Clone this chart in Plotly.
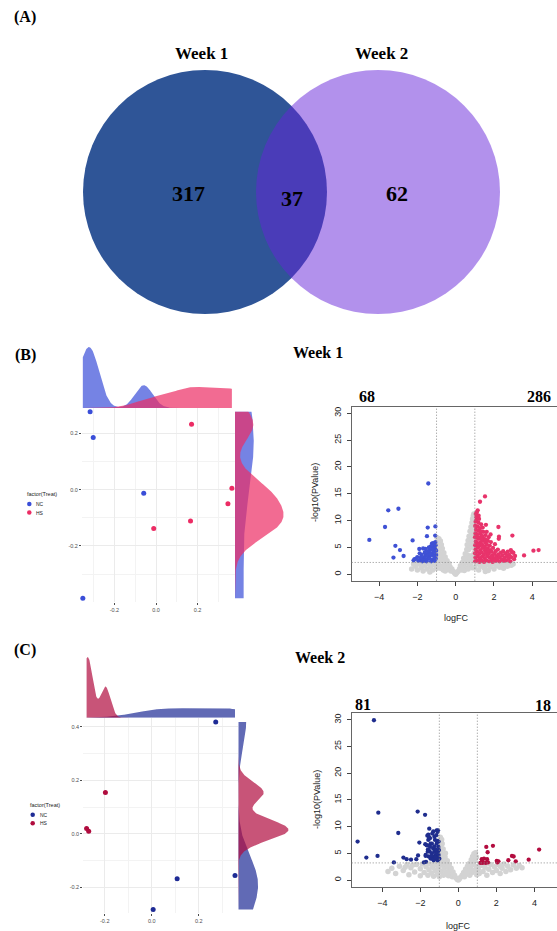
import numpy as np
import plotly.graph_objects as go

W, H = 557, 931

# ---------------- data ----------------
venn_sets = ["Week 1", "Week 2"]
venn_counts = [317, 37, 62]          # only week1, shared, only week2

treat_groups = ["NC", "HS"]

w1_nc_pc1 = [-0.317, -0.302, -0.059, -0.352]
w1_nc_pc2 = [0.277, 0.185, -0.013, -0.386]
w1_hs_pc1 = [0.171, 0.365, 0.346, 0.166, -0.011]
w1_hs_pc2 = [0.232, 0.005, -0.050, -0.111, -0.138]

w2_nc_pc1 = [0.272, 0.108, 0.006, 0.354]
w2_nc_pc2 = [0.418, -0.168, -0.283, -0.156]
w2_hs_pc1 = [-0.197, -0.277, -0.268]
w2_hs_pc2 = [0.154, 0.020, 0.010]

w1_deg_counts = [68, 286]
w2_deg_counts = [81, 18]
fc_cut = 1.0
w1_p_cut = 2.2
w2_p_cut = 3.2

# (logFC, -log10 P)
w1_down = [(-4.51, 6.4), (-3.69, 8.8), (-3.52, 11.9), (-2.99, 12.2), (-3.15, 5.3), (-2.91, 4.5),
           (-3.25, 3.1), (-2.72, 3.4), (-2.25, 6.3), (-1.43, 16.9), (-1.46, 8.7), (-1.06, 8.9),
           (-1.50, 7.1), (-1.06, 6.0), (-1.24, 5.7), (-1.90, 4.7), (-2.07, 2.9), (-1.58, 4.7),
           (-1.34, 4.5), (-1.17, 3.6), (-1.08, 4.8), (-1.25, 3.9), (-1.43, 3.2), (-1.69, 3.0),
           (-1.86, 2.7), (-2.00, 3.2), (-1.51, 2.7), (-1.20, 2.7), (-1.08, 3.0), (-1.34, 3.4),
           (-1.13, 4.2), (-1.43, 3.9), (-1.78, 3.6), (-1.60, 3.3), (-1.15, 5.1), (-1.05, 5.4),
           (-1.30, 5.2), (-1.45, 4.3), (-1.55, 3.7), (-1.65, 2.5), (-1.75, 2.4), (-1.95, 2.5),
           (-2.15, 2.8), (-1.28, 2.4), (-1.10, 2.5), (-1.02, 3.6), (-1.22, 4.6), (-1.38, 2.9),
           (-1.48, 3.5), (-1.62, 4.0), (-1.88, 3.9), (-1.70, 4.8), (-1.02, 4.4), (-1.12, 3.3),
           (-1.32, 3.8), (-1.52, 2.4), (-2.20, 2.6), (-1.82, 3.1), (-1.04, 2.9), (-1.18, 5.8),
           (-1.40, 5.0), (-1.07, 7.2)]
w1_up = [(1.02, 2.4), (1.03, 3.1), (1.01, 3.9), (1.04, 4.6), (1.02, 5.4), (1.05, 6.1), (1.01, 6.9),
         (1.03, 7.6), (1.06, 8.3), (1.02, 9.0), (1.04, 9.8), (1.08, 10.6), (1.05, 11.2), (1.15, 11.9),
         (1.27, 13.5), (1.53, 14.5), (1.12, 2.6), (1.14, 3.4), (1.11, 4.2), (1.16, 5.0), (1.13, 5.8),
         (1.17, 6.6), (1.12, 7.4), (1.18, 8.1), (1.14, 8.9), (1.19, 9.6), (1.22, 10.3), (1.24, 2.3),
         (1.26, 3.0), (1.23, 3.8), (1.28, 4.5), (1.25, 5.3), (1.29, 6.0), (1.24, 6.8), (1.30, 7.5),
         (1.27, 8.6), (1.33, 9.3), (1.36, 2.5), (1.38, 3.3), (1.35, 4.1), (1.40, 4.9), (1.37, 5.6),
         (1.42, 6.3), (1.39, 7.1), (1.44, 7.9), (1.41, 8.7), (1.48, 2.3), (1.51, 3.0), (1.47, 3.7),
         (1.53, 4.4), (1.50, 5.2), (1.55, 5.9), (1.49, 6.6), (1.56, 7.3), (1.58, 9.2), (1.62, 7.9),
         (1.61, 2.6), (1.64, 3.4), (1.60, 4.1), (1.66, 4.8), (1.63, 5.5), (1.68, 6.2), (1.72, 6.9),
         (1.74, 2.4), (1.77, 3.1), (1.73, 3.8), (1.80, 4.5), (1.78, 5.3), (1.84, 6.0), (1.82, 7.4),
         (1.88, 2.7), (1.91, 3.5), (1.87, 4.2), (1.95, 4.9), (1.93, 2.3), (1.99, 3.0), (2.02, 3.8),
         (2.05, 5.6), (2.10, 2.5), (2.13, 3.3), (2.08, 4.3), (2.18, 2.9), (2.22, 3.7), (2.20, 4.6),
         (2.28, 2.4), (2.31, 3.2), (2.25, 6.6), (2.23, 8.8), (2.26, 7.0), (2.36, 4.0), (2.40, 2.7),
         (2.44, 3.5), (2.48, 4.3), (2.52, 2.5), (2.55, 3.1), (2.60, 3.9), (2.64, 2.6), (2.68, 3.4),
         (2.72, 4.2), (2.76, 2.9), (2.80, 3.6), (2.85, 2.4), (2.90, 3.2), (2.96, 7.2), (2.95, 4.1),
         (3.01, 4.0), (3.05, 2.8), (2.88, 4.5), (3.10, 3.4), (3.57, 3.5), (4.06, 4.4), (4.33, 4.5),
         (1.07, 10.0), (1.09, 7.0), (1.20, 5.5), (1.33, 6.6), (1.46, 5.0), (1.58, 4.7), (1.70, 4.4),
         (1.86, 3.3), (2.00, 2.6), (1.10, 11.5), (1.20, 10.9), (1.31, 8.0), (1.57, 6.4)]
w1_ns = [(-2.3, 1.0), (-2.1, 1.5), (-2.0, 0.8), (-1.9, 1.9), (-1.8, 1.2), (-1.7, 0.6), (-1.6, 1.7),
         (-1.5, 1.0), (-1.4, 2.0), (-1.3, 1.4), (-1.2, 0.8), (-1.1, 1.8), (-1.0, 1.1), (1.0, 1.2),
         (1.1, 1.9), (1.2, 0.8), (1.3, 1.5), (1.4, 2.0), (1.5, 1.1), (1.6, 1.7), (1.7, 0.7), (1.8, 1.4),
         (1.9, 2.0), (2.0, 1.0), (2.1, 1.6), (2.2, 2.0), (2.3, 1.3), (2.4, 1.8), (2.5, 1.1), (2.6, 1.9),
         (2.7, 1.5), (2.8, 2.0), (2.9, 1.7), (3.0, 1.9), (-1.7, 2.1), (-2.2, 1.9), (1.55, 0.5),
         (-1.35, 0.4), (0.05, 0.3), (0.12, 0.5), (0.2, 1.0), (0.25, 1.6), (0.3, 0.8), (0.35, 2.2),
         (0.38, 1.4), (0.42, 3.0), (0.45, 2.0), (0.5, 3.8), (0.52, 1.2), (0.55, 2.8), (0.58, 4.6),
         (0.6, 5.5), (0.62, 3.6), (0.65, 6.3), (0.68, 4.6), (0.7, 7.1), (0.72, 5.5), (0.75, 8.0),
         (0.78, 6.4), (0.8, 8.8), (0.82, 7.2), (0.85, 9.6), (0.88, 10.3), (0.9, 8.0), (0.92, 10.9),
         (0.95, 11.2), (0.95, 9.0), (0.97, 6.0), (0.97, 4.0), (0.97, 2.5), (0.9, 5.0), (0.85, 3.5),
         (0.8, 2.0), (0.75, 3.0), (0.7, 1.5), (0.65, 1.0), (0.6, 2.2), (0.88, 1.2), (0.93, 7.0),
         (-0.05, 0.2), (-0.12, 0.5), (-0.2, 1.0), (-0.25, 0.6), (-0.3, 1.4), (-0.35, 2.0), (-0.4, 0.9),
         (-0.45, 2.5), (-0.5, 1.5), (-0.55, 3.2), (-0.6, 2.2), (-0.62, 4.0), (-0.68, 3.0), (-0.7, 4.8),
         (-0.72, 1.5), (-0.75, 5.5), (-0.78, 3.8), (-0.8, 6.2), (-0.85, 2.5), (-0.85, 4.6), (-0.88, 6.6),
         (-0.9, 5.5), (-0.92, 3.2), (-0.95, 1.2), (-0.97, 6.8), (-0.97, 4.2), (-0.65, 0.8), (-0.8, 1.1),
         (-0.55, 0.6), (0.0, 0.0), (0.9, 6.5), (0.93, 3.2), (0.72, 2.3), (0.82, 5.8), (-0.9, 2.0),
         (-0.75, 3.4), (-0.62, 1.6), (-0.45, 1.0), (0.45, 0.7), (-1.2, 2.1), (-2.0, 2.0), (1.2, 2.0)]

w2_down = [(-4.44, 29.9), (-5.30, 7.2), (-4.84, 4.2), (-4.21, 12.6), (-4.25, 4.5), (-3.16, 8.8),
           (-3.39, 3.3), (-2.89, 4.2), (-2.72, 3.9), (-2.49, 3.8), (-2.21, 3.9), (-2.12, 4.6),
           (-2.05, 7.0), (-2.14, 12.8), (-1.75, 12.2), (-1.81, 3.3), (-1.70, 3.4), (-1.53, 9.6),
           (-1.58, 8.5), (-1.49, 7.8), (-1.46, 6.8), (-1.63, 6.5), (-1.32, 9.1), (-1.23, 7.5),
           (-1.14, 9.3), (-1.09, 9.0), (-1.32, 5.9), (-1.26, 5.3), (-1.19, 4.7), (-1.14, 4.4),
           (-1.09, 3.7), (-1.40, 5.0), (-1.51, 5.4), (-1.26, 8.1), (-1.14, 6.8), (-1.05, 6.2),
           (-1.02, 5.6), (-1.04, 4.7), (-1.21, 4.0), (-1.35, 4.4), (-1.49, 6.2), (-1.58, 7.5),
           (-1.37, 8.7), (-1.16, 8.4), (-1.11, 7.3), (-1.07, 5.3), (-1.39, 6.8), (-1.26, 6.3),
           (-1.18, 5.7), (-1.04, 7.2), (-1.60, 5.7), (-1.46, 4.0), (-1.30, 3.7), (-1.12, 5.0),
           (-1.00, 4.0), (-1.56, 4.4), (-1.72, 4.7), (-1.07, 9.3), (-1.63, 8.3), (-1.53, 8.0),
           (-1.74, 6.7), (-1.67, 6.5), (-1.61, 5.3), (-1.72, 4.5), (-1.32, 3.9), (-1.40, 4.5),
           (-1.21, 4.2)]
w2_up = [(1.47, 6.2), (1.82, 6.4), (1.54, 5.2), (1.23, 3.9), (1.35, 4.0), (1.16, 3.2), (1.28, 3.2),
         (1.51, 3.9), (1.56, 3.3), (2.02, 3.6), (2.11, 3.5), (2.05, 3.3), (2.63, 3.7), (2.82, 4.5),
         (2.91, 4.4), (3.02, 3.5), (3.70, 3.8), (4.25, 5.7), (1.25, 3.5), (1.44, 3.2)]
w2_ns = [(-3.7, 1.6), (-3.5, 2.2), (-3.3, 1.2), (-3.1, 2.6), (-2.9, 1.8), (-2.7, 2.9), (-2.6, 1.0),
         (-2.5, 2.3), (-2.3, 1.5), (-2.2, 2.9), (-2.0, 0.8), (-2.0, 2.1), (-1.9, 3.0), (-1.8, 1.4),
         (-1.7, 2.5), (-1.6, 0.9), (-1.55, 1.9), (-1.5, 3.0), (-1.4, 1.3), (-1.35, 2.4), (-1.3, 0.7),
         (-1.25, 3.1), (-1.2, 1.8), (-1.15, 2.8), (-1.1, 1.1), (-1.05, 2.2), (-1.0, 3.4), (-1.0, 0.6),
         (-0.95, 4.2), (-0.95, 5.2), (-0.92, 6.2), (-0.9, 7.2), (-0.95, 8.0), (-0.9, 1.6), (-0.88, 2.8),
         (-0.85, 3.8), (-0.82, 4.8), (-0.8, 5.8), (-0.78, 0.9), (-0.75, 2.2), (-0.72, 3.2), (-0.7, 4.3),
         (-0.68, 5.0), (-0.65, 1.4), (-0.6, 2.6), (-0.58, 3.6), (-0.52, 0.8), (-0.5, 1.9), (-0.48, 2.9),
         (-0.42, 1.2), (-0.38, 2.2), (-0.32, 0.6), (-0.28, 1.5), (-0.2, 0.9), (-0.12, 0.4), (-0.05, 0.1),
         (0.05, 0.2), (0.12, 0.5), (0.2, 0.9), (0.28, 1.4), (0.32, 0.6), (0.38, 2.0), (0.42, 1.1),
         (0.48, 2.6), (0.52, 1.6), (0.58, 3.1), (0.6, 0.9), (0.65, 2.2), (0.68, 3.8), (0.72, 1.4),
         (0.75, 4.4), (0.78, 2.9), (0.82, 4.9), (0.85, 1.8), (0.88, 3.6), (0.9, 5.1), (0.95, 4.3),
         (0.95, 2.5), (0.97, 1.0), (1.05, 2.0), (1.1, 1.2), (1.2, 2.7), (1.3, 1.6), (1.4, 2.4),
         (1.5, 0.9), (1.6, 2.0), (1.7, 2.9), (1.8, 1.4), (1.9, 2.5), (2.0, 1.8), (2.1, 2.9), (2.2, 1.2),
         (2.3, 2.2), (2.4, 3.0), (2.5, 1.6), (2.6, 2.6), (2.75, 1.9), (2.9, 2.8), (3.05, 2.2),
         (3.2, 2.7), (3.35, 2.3), (1.15, 3.0), (1.45, 3.1), (0.0, 0.0), (-0.85, 6.8), (-0.88, 7.6),
         (-0.65, 3.0), (-0.55, 1.2), (0.7, 3.3), (0.62, 1.7), (-2.4, 2.8), (-2.8, 2.4), (2.2, 2.6)]

# ---------------- helpers ----------------
SERIF = "Liberation Serif"
SANS = "Liberation Sans"


def px(x):
    return x / W


def py(y):
    return 1 - y / H


def rgba(hx, a):
    h = hx.lstrip('#')
    return "rgba(%d,%d,%d,%s)" % (int(h[0:2], 16), int(h[2:4], 16), int(h[4:6], 16), a)


def bw_nrd0(v):
    v = np.asarray(v, float)
    sd = v.std(ddof=1)
    q75, q25 = np.percentile(v, [75, 25])
    lo = min(sd, (q75 - q25) / 1.34)
    if lo <= 0:
        lo = sd
    return 0.9 * lo * len(v) ** -0.2


def kde(v, grid):
    v = np.asarray(v, float)
    bw = bw_nrd0(v)
    z = (grid[:, None] - v[None, :]) / bw
    return np.exp(-0.5 * z ** 2).sum(1) / (len(v) * bw * np.sqrt(2 * np.pi))


fig = go.Figure()
lay = {}
shapes = []
ann = []


def axkey(c, n):
    return c + "axis" + ("" if n == 1 else str(n))


def ref(c, n):
    return c + ("" if n == 1 else str(n))


def text(x, y, s, size, family=SERIF, bold=True, color="black", angle=0, xanchor="center"):
    ann.append(dict(x=px(x), y=py(y), xref="paper", yref="paper", showarrow=False,
                    text=("<b>%s</b>" % s) if bold else s, textangle=angle, xanchor=xanchor,
                    yanchor="middle", font=dict(family=family, size=size, color=color)))


def pca_block(n, nc1, nc2, hs1, hs2, c_nc, c_hs, box, top_y, right_x, xr, yr, xt, yt):
    left, right, top, bottom = box
    mx, my = ref("x", n), ref("y", n)
    tx, ty = ref("x", n + 1), ref("y", n + 1)
    rx, ry = ref("x", n + 2), ref("y", n + 2)
    for a1, a2, c, nm in [(nc1, nc2, c_nc, treat_groups[0]), (hs1, hs2, c_hs, treat_groups[1])]:
        fig.add_trace(go.Scatter(x=a1, y=a2, mode="markers", name=nm, showlegend=False,
                                 marker=dict(color=c, size=5), cliponaxis=False,
                                 xaxis=mx, yaxis=my))
    gx = np.linspace(min(nc1 + hs1), max(nc1 + hs1), 512)
    gy = np.linspace(min(nc2 + hs2), max(nc2 + hs2), 512)
    dx = [kde(nc1, gx), kde(hs1, gx)]
    dy = [kde(nc2, gy), kde(hs2, gy)]
    for d, c in zip(dx, [c_nc, c_hs]):
        fig.add_trace(go.Scatter(x=gx, y=d, mode="lines", line=dict(width=0, color=c),
                                 fill="tozeroy", fillcolor=rgba(c, 0.7), showlegend=False,
                                 hoverinfo="skip", xaxis=tx, yaxis=ty))
    for d, c in zip(dy, [c_nc, c_hs]):
        fig.add_trace(go.Scatter(x=d, y=gy, mode="lines", line=dict(width=0, color=c),
                                 fill="tozerox", fillcolor=rgba(c, 0.7), showlegend=False,
                                 hoverinfo="skip", xaxis=rx, yaxis=ry))
    common = dict(showgrid=True, gridcolor="#EBEBEB", gridwidth=0.9, zeroline=False,
                  showline=False, ticks="outside", ticklen=2, tickcolor="#4D4D4D",
                  tickfont=dict(family=SANS, size=5.5, color="#4D4D4D"))
    lay[axkey("x", n)] = dict(domain=[px(left), px(right)], range=xr, anchor=my,
                              tickvals=xt, ticktext=["%.1f" % v for v in xt],
                              minor=dict(dtick=0.1, tick0=0, showgrid=True, gridcolor="#F3F3F3",
                                         ticks=""), **common)
    lay[axkey("y", n)] = dict(domain=[py(bottom), py(top)], range=yr, anchor=mx,
                              tickvals=yt, ticktext=["%.1f" % v for v in yt],
                              minor=dict(dtick=0.1, tick0=0, showgrid=True, gridcolor="#F3F3F3",
                                         ticks=""), **common)
    lay[axkey("x", n + 1)] = dict(domain=[px(left), px(right)], range=xr, visible=False, anchor=ty)
    lay[axkey("y", n + 1)] = dict(domain=[py(top), py(top_y)],
                                  range=[0, max(d.max() for d in dx) * 1.05], visible=False, anchor=tx)
    lay[axkey("x", n + 2)] = dict(domain=[px(right), px(right_x)],
                                  range=[0, max(d.max() for d in dy) * 1.05], visible=False, anchor=ry)
    lay[axkey("y", n + 2)] = dict(domain=[py(bottom), py(top)], range=yr, visible=False, anchor=rx)


def volcano_block(n, ns, down, up, c_dn, c_up, pcut, box, xr, yr):
    left, top, bottom = box
    xa, ya = ref("x", n), ref("y", n)
    for pts, c, sz in [(ns, "#D3D3D3", 5.5), (down, c_dn, 4.3), (up, c_up, 4.3)]:
        fc, pv = zip(*pts)
        fig.add_trace(go.Scatter(x=list(fc), y=list(pv), mode="markers", showlegend=False,
                                 marker=dict(color=c, size=sz, line=dict(width=0)),
                                 xaxis=xa, yaxis=ya))
    ax = dict(showgrid=False, zeroline=False, showline=True, mirror=True, linecolor="#666666",
              linewidth=1, ticks="outside", ticklen=4, tickcolor="#444444",
              tickfont=dict(family=SANS, size=9, color="#222222"))
    lay[axkey("x", n)] = dict(domain=[px(left), 1], range=xr, anchor=ya,
                              tickvals=[-4, -2, 0, 2, 4], ticklabelstandoff=3, **ax)
    lay[axkey("y", n)] = dict(domain=[py(bottom), py(top)], range=yr, anchor=xa,
                              tickvals=[0, 5, 10, 15, 20, 25, 30], tickangle=-90,
                              ticklabelstandoff=2, **ax)
    dot = dict(color="#8C8C8C", width=1, dash="1px,2px")
    for v in (-fc_cut, fc_cut):
        shapes.append(dict(type="line", xref=xa, yref=ya + " domain", x0=v, x1=v, y0=0, y1=1,
                           line=dot, layer="above"))
    shapes.append(dict(type="line", xref=xa + " domain", yref=ya, x0=0, x1=1, y0=pcut, y1=pcut,
                       line=dot, layer="above"))


# ---------------- panel A : Venn ----------------
shapes.append(dict(type="circle", xref="paper", yref="paper", x0=px(83), x1=px(327),
                   y0=py(314), y1=py(70), fillcolor="#2F5597", line=dict(width=0), layer="below"))
shapes.append(dict(type="circle", xref="paper", yref="paper", x0=px(256), x1=px(500),
                   y0=py(314), y1=py(70), fillcolor="rgba(101,35,217,0.5)", line=dict(width=0),
                   layer="below"))
text(25, 17, "(A)", 16)
text(201, 54, venn_sets[0], 17)
text(382, 54, venn_sets[1], 17)
for (x, y), v in zip([(188, 193), (292, 198), (397, 193)], venn_counts):
    text(x, y, str(v), 22)

# ---------------- panel B ----------------
pca_block(1, w1_nc_pc1, w1_nc_pc2, w1_hs_pc1, w1_hs_pc2, "#3A4ED8", "#EC2C64",
          (82, 235, 408, 602), 344, 286, [-0.356, 0.38], [-0.399, 0.29],
          [-0.2, 0.0, 0.2], [-0.2, 0.0, 0.2])
volcano_block(4, w1_ns, w1_down, w1_up, "#3F51D5", "#E8336B", w1_p_cut,
              (351.7, 406.7, 580.7), [-5.43, 5.29], [-1.2, 31.2])
text(25, 355, "(B)", 16)
text(318, 352, "Week 1", 16)
text(367, 396, str(w1_deg_counts[0]), 16)
text(539, 396, str(w1_deg_counts[1]), 16)
text(315, 493, "-log10(PValue)", 9, SANS, False, "#222222", -90)
text(456, 618, "logFC", 9, SANS, False, "#222222")

# ---------------- panel C ----------------
pca_block(5, w2_nc_pc1, w2_nc_pc2, w2_hs_pc1, w2_hs_pc2, "#1E2B95", "#B00C3E",
          (83.3, 238.3, 717.7, 913.3), 654, 291, [-0.291, 0.368], [-0.297, 0.434],
          [-0.2, 0.0, 0.2], [-0.2, 0.0, 0.2, 0.4])
volcano_block(8, w2_ns, w2_down, w2_up, "#1F2D8E", "#B30C3F", w2_p_cut,
              (351.7, 713.3, 886.7), [-5.61, 5.19], [-1.25, 31.2])
text(25, 650, "(C)", 16)
text(320, 657, "Week 2", 16)
text(363, 704, str(w2_deg_counts[0]), 16)
text(543, 705, str(w2_deg_counts[1]), 16)
text(317, 800, "-log10(PValue)", 9, SANS, False, "#222222", -90)
text(458, 926, "logFC", 9, SANS, False, "#222222")

# ---------------- legends (pixel overlay axis) ----------------
lay["xaxis12"] = dict(domain=[0, 1], range=[0, W], visible=False, anchor="y12", fixedrange=True)
lay["yaxis12"] = dict(domain=[0, 1], range=[H, 0], visible=False, anchor="x12", fixedrange=True)
for (tx0, ty0, mx0, my0), cols in [((25, 494, 29.3, 504), ("#3A4ED8", "#EC2C64")),
                                   ((28.3, 805, 32.7, 814.7), ("#1E2B95", "#B00C3E"))]:
    text(tx0, ty0, "factor(Treat)", 5.5, SANS, False, "#222222", xanchor="left")
    for i, g in enumerate(treat_groups):
        yy = my0 + i * 8.5
        fig.add_trace(go.Scatter(x=[mx0], y=[yy], mode="markers", showlegend=False,
                                 marker=dict(color=cols[i], size=4.5), xaxis="x12", yaxis="y12",
                                 hoverinfo="skip"))
        text(mx0 + 5, yy, g, 5, SANS, False, "#222222", xanchor="left")

fig.update_layout(width=W, height=H, margin=dict(l=0, r=0, t=0, b=0), autosize=False,
                  paper_bgcolor="white", plot_bgcolor="rgba(0,0,0,0)", showlegend=False,
                  shapes=shapes, annotations=ann, **lay)

fig.write_html("out.html", config={"displayModeBar": False},
               post_script="document.body.style.margin='0';document.body.style.overflow='hidden';")
